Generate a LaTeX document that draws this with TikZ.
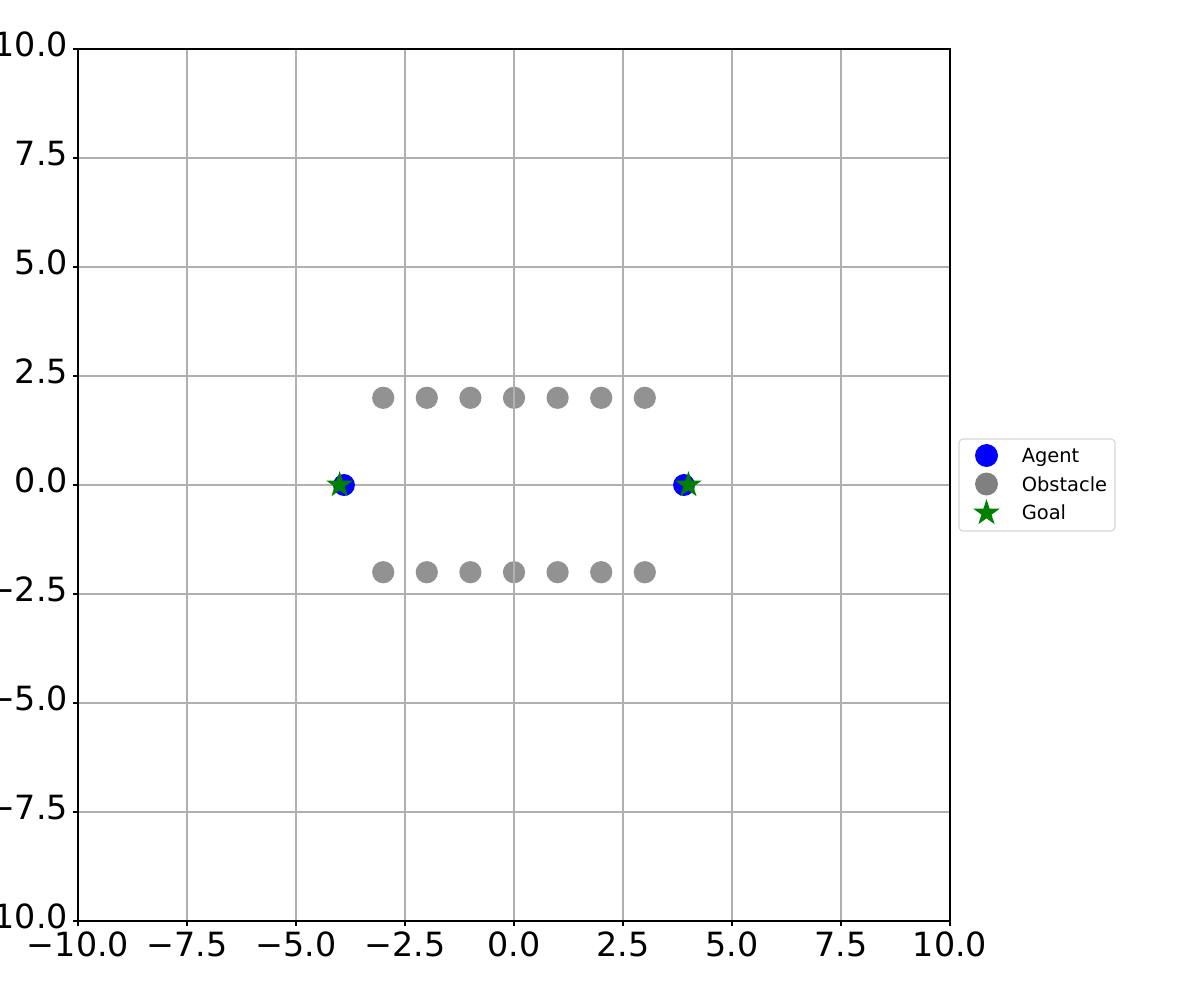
\documentclass[tikz,border=0pt]{standalone}
\usepackage{fontspec}
\setmainfont{DejaVu Sans}
\usetikzlibrary{shapes.geometric}
\definecolor{gridc}{HTML}{B0B0B0}
\definecolor{goalc}{HTML}{008000}
\definecolor{legc}{HTML}{D6D6D6}
\definecolor{obstc}{HTML}{808080}
\tikzset{
 gridline/.style={gridc, line width=0.8pt},
 tickline/.style={black, line width=0.8pt},
 spine/.style={black, line width=0.8pt},
 agentdot/.style={circle, fill=blue, inner sep=0pt, minimum size=15.8pt},
 obst/.style={circle, fill=obstc, fill opacity=0.85, inner sep=0pt, minimum size=16pt},
 goalstar/.style={star, star points=5, star point ratio=2.618, fill=goalc, inner sep=0pt, minimum size=20pt},
 ticklab/.style={font=\fontsize{24}{28}\selectfont, inner sep=0pt},
 leglab/.style={font=\fontsize{14}{16}\selectfont, inner sep=0pt, anchor=base west},
 legbox/.style={draw=legc, fill=white, rounded corners=2.9pt, line width=0.8pt},
}
\begin{document}
\begin{tikzpicture}[x=0.72pt, y=-0.72pt]
\useasboundingbox[fill=white] (0,0) rectangle (1200,1000);
\begin{scope}[shift={(514,485)}, x=31.392pt, y=31.392pt]
 % obstacles (below grid)
 \foreach \i in {-3,...,3} {
   \node[obst] (ot\i) at (\i,2) {};
   \node[obst] (ob\i) at (\i,-2) {};
 }
 % grid
 \foreach \v in {-7.5,-5,-2.5,0,2.5,5,7.5} {
   \draw[gridline] (\v,-10) -- (\v,10);
   \draw[gridline] (-10,\v) -- (10,\v);
 }
 % ticks and labels
 \foreach \v/\t in {-10/−10.0,-7.5/−7.5,-5/−5.0,-2.5/−2.5,0/0.0,2.5/2.5,5/5.0,7.5/7.5,10/10.0} {
   \draw[tickline] (\v,-10) -- ++(0,-3.5pt);
   \draw[tickline] (-10,\v) -- ++(-3.5pt,0);
   \node[ticklab, anchor=base] (xl\v) at ([yshift=-25.2pt]\v,-10) {\t};
   \node[ticklab, anchor=base east] (yl\v) at ([xshift=-7pt,yshift=-5.5pt]-10,\v) {\t};
 }
 % spines
 \draw[spine] (-10,-10) rectangle (10,10);
 % agents and goals
 \node[agentdot] (a1) at (-3.9,0) {};
 \node[agentdot] (a2) at (3.9,0) {};
 \node[goalstar] (g1) at (-4,0) {};
 \node[goalstar] (g2) at (4,0) {};
\end{scope}
% legend
\draw[legbox] (959,439) rectangle (1115,531);
\node[agentdot, minimum size=16.5pt] (la) at (986.5,455.5) {};
\node[circle, fill=obstc, inner sep=0pt, minimum size=16.5pt] (lo) at (986.5,484) {};
\node[goalstar] (lg) at (986.5,513) {};
\node[leglab] (ta) at (1021.5,462) {Agent};
\node[leglab] (to) at (1021.5,491) {Obstacle};
\node[leglab] (tg) at (1021.5,519.5) {Goal};
\end{tikzpicture}
\end{document}
